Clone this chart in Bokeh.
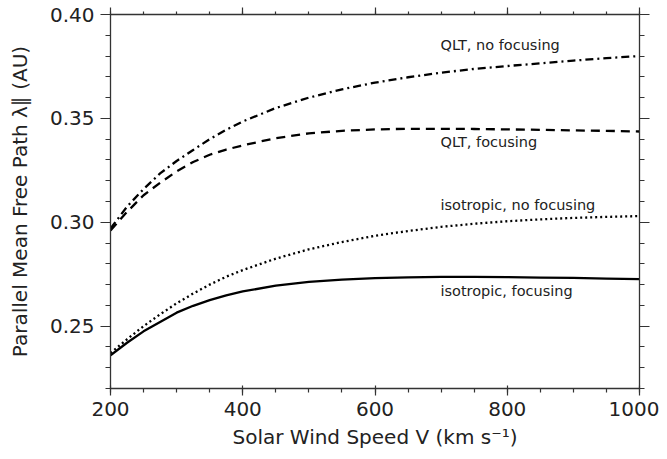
from bokeh.plotting import figure
from bokeh.models import LinearAxis, SingleIntervalTicker, Range1d, Label, NumeralTickFormatter, CustomJSTickFormatter
from bokeh.embed import file_html
from bokeh.resources import INLINE

speed = [200, 225, 250, 275, 300, 325, 350, 375, 400, 450, 500, 550, 600, 650, 700,
         750, 800, 850, 900, 950, 1000]
qlt_no_focusing = [0.297, 0.3075, 0.316, 0.3235, 0.3295, 0.3348, 0.340, 0.3445, 0.3485, 0.355,
                   0.360, 0.364, 0.3672, 0.3698, 0.372, 0.3738, 0.3752, 0.3765, 0.3778, 0.379, 0.380]
qlt_focusing = [0.296, 0.305, 0.313, 0.319, 0.3245, 0.329, 0.3325, 0.335, 0.337, 0.3405,
                0.3428, 0.344, 0.3447, 0.345, 0.345, 0.3449, 0.3447, 0.3445, 0.3442, 0.344, 0.3437]
iso_no_focusing = [0.237, 0.2437, 0.250, 0.2557, 0.261, 0.2657, 0.270, 0.2738, 0.277, 0.2825,
                   0.287, 0.2905, 0.2935, 0.2958, 0.2978, 0.2993, 0.3005, 0.3014, 0.3021, 0.3026, 0.303]
iso_focusing = [0.236, 0.242, 0.2475, 0.252, 0.2565, 0.2598, 0.2625, 0.2648, 0.2667, 0.2695,
                0.2713, 0.2724, 0.2731, 0.2735, 0.2737, 0.2737, 0.2736, 0.2734, 0.2732, 0.2729, 0.2726]

curve_labels = ["QLT, no focusing", "QLT, focusing", "isotropic, no focusing", "isotropic, focusing"]
label_x = [699, 699, 699, 699]
label_y = [0.3851, 0.3384, 0.3081, 0.2667]

FONT = "DejaVu Sans"
TXT = "#222222"

p = figure(width=659, height=451, output_backend="svg", toolbar_location=None,
           x_range=Range1d(200, 1000), y_range=Range1d(0.22, 0.40),
           min_border_left=110, min_border_top=14, min_border_right=20, min_border_bottom=62)
p.outline_line_color = None
p.grid.grid_line_color = None
p.background_fill_color = "white"
p.border_fill_color = "white"

p.line(speed, qlt_no_focusing, line_color="black", line_width=2.3, line_dash="8 4 2 4")
p.line(speed, qlt_focusing, line_color="black", line_width=2.3, line_dash="9 6")
p.line(speed, iso_no_focusing, line_color="black", line_width=2.3, line_dash="2 3")
p.line(speed, iso_focusing, line_color="black", line_width=2.3)

for t, x, y in zip(curve_labels, label_x, label_y):
    p.add_layout(Label(x=x, y=y, text=t, text_font=FONT, text_font_size="14.5px",
                       text_color=TXT, text_baseline="middle", text_align="left"))


def style(ax, labels=True, major_out=10, minor_out=5, major_in=0):
    ax.axis_line_color = "#333333"
    ax.axis_line_width = 1.3
    ax.major_tick_line_color = "#333333"
    ax.minor_tick_line_color = "#333333"
    ax.major_tick_line_width = 1.2
    ax.minor_tick_line_width = 1.2
    ax.major_tick_out = major_out
    ax.major_tick_in = major_in
    ax.minor_tick_out = minor_out
    ax.minor_tick_in = 0
    ax.major_label_text_font = FONT
    ax.major_label_text_font_size = "20px"
    ax.major_label_text_color = TXT
    ax.axis_label_text_font = FONT
    ax.axis_label_text_font_size = "20px"
    ax.axis_label_text_font_style = "normal"
    ax.axis_label_text_color = TXT
    if not labels:
        ax.formatter = CustomJSTickFormatter(code="return '';")
        ax.major_label_standoff = 0


p.xaxis.ticker = SingleIntervalTicker(interval=200, num_minor_ticks=4)
p.yaxis.ticker = SingleIntervalTicker(interval=0.05, num_minor_ticks=5)
p.xaxis.axis_label = "Solar Wind Speed V (km s\u207b\u00b9)"
p.yaxis.axis_label = "Parallel Mean Free Path \u03bb\u2225 (AU)"
p.yaxis.formatter = NumeralTickFormatter(format="0.00")
style(p.xaxis[0], major_out=7, minor_out=4, major_in=3)
style(p.yaxis[0], major_out=10, minor_out=5)
p.xaxis.major_label_standoff = 6
p.xaxis.axis_label_standoff = 6
p.yaxis.major_label_standoff = 6
p.yaxis.axis_label_standoff = 15

top = LinearAxis(ticker=SingleIntervalTicker(interval=200, num_minor_ticks=4))
style(top, labels=False, major_out=7, minor_out=3)
p.add_layout(top, "above")
right = LinearAxis(ticker=SingleIntervalTicker(interval=0.05, num_minor_ticks=5))
style(right, labels=False, major_out=10, minor_out=5)
p.add_layout(right, "right")

open("out.html", "w").write(file_html(p, INLINE))
